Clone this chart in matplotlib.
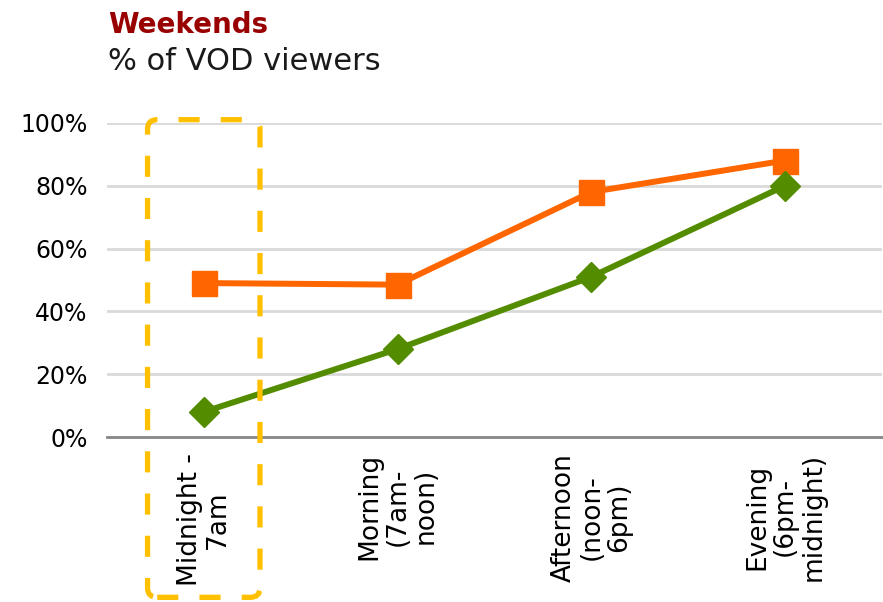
import matplotlib.pyplot as plt
from matplotlib.patches import FancyBboxPatch

categories = ["Midnight -\n7am", "Morning\n(7am-\nnoon)", "Afternoon\n(noon-\n6pm)", "Evening\n(6pm-\nmidnight)"]
orange_vals = [49, 48.5, 78, 88]
green_vals = [8, 28, 51, 80]
yticks = [0, 20, 40, 60, 80, 100]

fig = plt.figure(figsize=(8.83, 6.02), dpi=100)
ax = fig.add_axes([0.121, 0.274, 0.878, 0.522])

x = list(range(len(categories)))
ax.plot(x, orange_vals, color="#FF6600", lw=4.3, marker="s", ms=18, zorder=3)
ax.plot(x, green_vals, color="#548C00", lw=4.3, marker="D", ms=15, zorder=3)

ax.set_xlim(-0.5, 3.5)
ax.set_ylim(0, 100)
ax.set_yticks(yticks)
ax.set_yticklabels([f"{v}%" for v in yticks], fontsize=17)
ax.tick_params(axis="y", length=0, pad=14)
ax.set_xticks([])
for v in yticks[1:]:
    ax.axhline(v, color="#D9D9D9", lw=2, zorder=1)
for s in ["top", "right", "left"]:
    ax.spines[s].set_visible(False)
ax.spines["bottom"].set_color("#868686")
ax.spines["bottom"].set_linewidth(2)
ax.set_facecolor("none")

for i, lab in enumerate(categories):
    ax.text(i, -5, lab, rotation=90, ha="center", va="top", multialignment="center",
            fontsize=19, color="#000000", linespacing=1.1)

box = FancyBboxPatch((-0.29, -51), 0.58, 152, boxstyle="round,pad=0,rounding_size=0.05",
                     transform=ax.transData, fill=False, edgecolor="#FFC000", lw=3.8,
                     linestyle=(0, (4, 4)), clip_on=False, mutation_aspect=60, zorder=4)
ax.add_patch(box)

fig.text(0.122, 0.946, "Weekends", fontsize=20, fontweight="bold", color="#990000", va="baseline")
fig.text(0.122, 0.883, "% of VOD viewers", fontsize=22, color="#1a1a1a", va="baseline")

fig.savefig("out.png", dpi=100)
